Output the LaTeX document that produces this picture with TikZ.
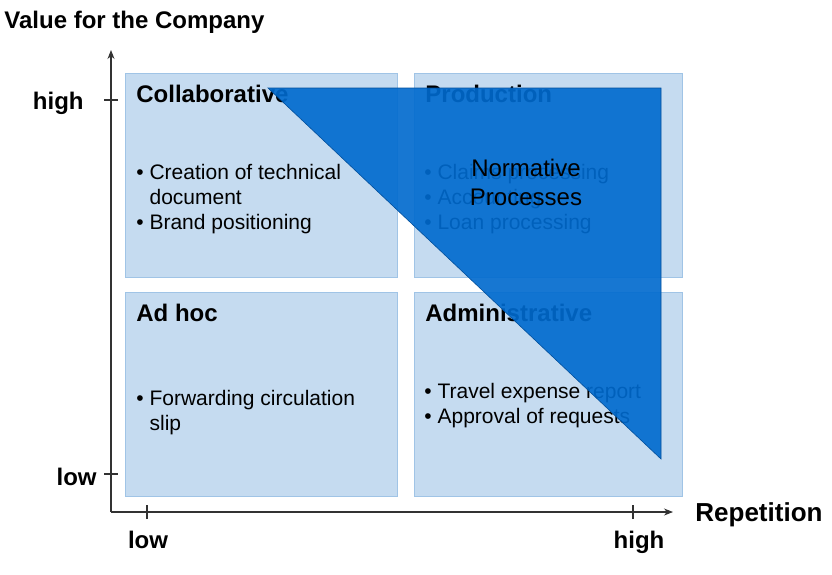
\documentclass[tikz,border=0pt]{standalone}
\usepackage{fontspec}
\setmainfont{Liberation Sans}
\usetikzlibrary{arrows.meta}
\definecolor{quadfill}{RGB}{197,219,240}
\definecolor{quadline}{RGB}{160,196,230}
\definecolor{normfill}{RGB}{0,106,206}
\definecolor{normline}{RGB}{0,78,155}
\definecolor{axisline}{RGB}{50,50,50}
\newcommand{\bul}{\textbullet\ }
\newcommand{\hang}{\hphantom{\textbullet\ }}
\begin{document}
\begin{tikzpicture}[x=1pt, y=-1pt, thick,
  quad node/.style={draw=quadline, fill=quadfill, line width=0.8pt, minimum width=272pt, minimum height=204pt, anchor=north west, inner sep=0pt},
  head node/.style={font=\fontsize{24}{28}\selectfont\bfseries, anchor=base west, inner sep=0pt},
  item node/.style={font=\fontsize{21}{25}\selectfont, align=left, anchor=base west, inner sep=0pt},
  axis label/.style={font=\fontsize{24}{28}\selectfont\bfseries, inner sep=0pt},
  tick/.style={draw=axisline, line width=1.1pt}]
  \useasboundingbox (0,0) rectangle (832,574);
  % quadrants
  \node[quad node] (collab) at (125,73) {};
  \node[quad node, minimum width=268pt] (prod) at (414,73) {};
  \node[quad node] (adhoc) at (125,292) {};
  \node[quad node, minimum width=268pt] (admin) at (414,292) {};
  \node[head node] (collab title) at (136,102) {Collaborative};
  \node[head node] (prod title) at (425,102) {Production};
  \node[head node] (adhoc title) at (136,321) {Ad hoc};
  \node[head node] (admin title) at (425,321) {Administrative};
  % base = last line
  \node[item node] (collab items) at (136,229) {\bul Creation of technical\\\hang document\\\bul Brand positioning};
  \node[item node] (prod items) at (424,229) {\bul Claims processing\\\bul Accounting\\\bul Loan processing};
  \node[item node] (adhoc items) at (136,430) {\bul Forwarding circulation\\\hang slip};
  \node[item node] (admin items) at (424,423) {\bul Travel expense report\\\bul Approval of requests};
  % normative triangle
  \coordinate (norm tl) at (268,88);
  \coordinate (norm tr) at (661,88);
  \coordinate (norm br) at (661,459);
  \filldraw[fill=normfill, fill opacity=0.91, draw=normline, line width=0.6pt] (norm tl) -- (norm tr) -- (norm br) -- cycle;
  \node[font=\fontsize{24}{29}\selectfont, align=center, inner sep=0pt] (norm) at (526,182) {Normative\\Processes};
  % axes
  \coordinate (origin) at (111,512);
  \coordinate (ytip) at (111,50);
  \coordinate (xtip) at (673,512);
  \draw[axisline, line width=1.1pt, -{Stealth[length=9pt, width=7pt]}] (origin) -- (ytip);
  \draw[axisline, line width=1.1pt, -{Stealth[length=9pt, width=7pt]}] (origin) -- (xtip);
  \coordinate (y high) at (111,100);
  \coordinate (y low) at (111,474);
  \coordinate (x low) at (147,512);
  \coordinate (x high) at (633,512);
  \draw[tick] ([xshift=-7pt]y high) -- ([xshift=7pt]y high);
  \draw[tick] ([xshift=-7pt]y low) -- ([xshift=7pt]y low);
  \draw[tick] ([yshift=-7pt]x low) -- ([yshift=7pt]x low);
  \draw[tick] ([yshift=-7pt]x high) -- ([yshift=7pt]x high);
  \node[axis label, anchor=base east] (y high label) at (84,109) {high};
  \node[axis label, anchor=base east] (y low label) at (97,485) {low};
  \node[axis label, anchor=base] (x low label) at (148,548) {low};
  \node[axis label, anchor=base] (x high label) at (639,548) {high};
  \node[axis label, anchor=base west, font=\fontsize{26}{28}\selectfont\bfseries] (x title) at (695,521) {Repetition};
  \node[axis label, anchor=base west] (y title) at (4,28) {Value for the Company};
\end{tikzpicture}
\end{document}
